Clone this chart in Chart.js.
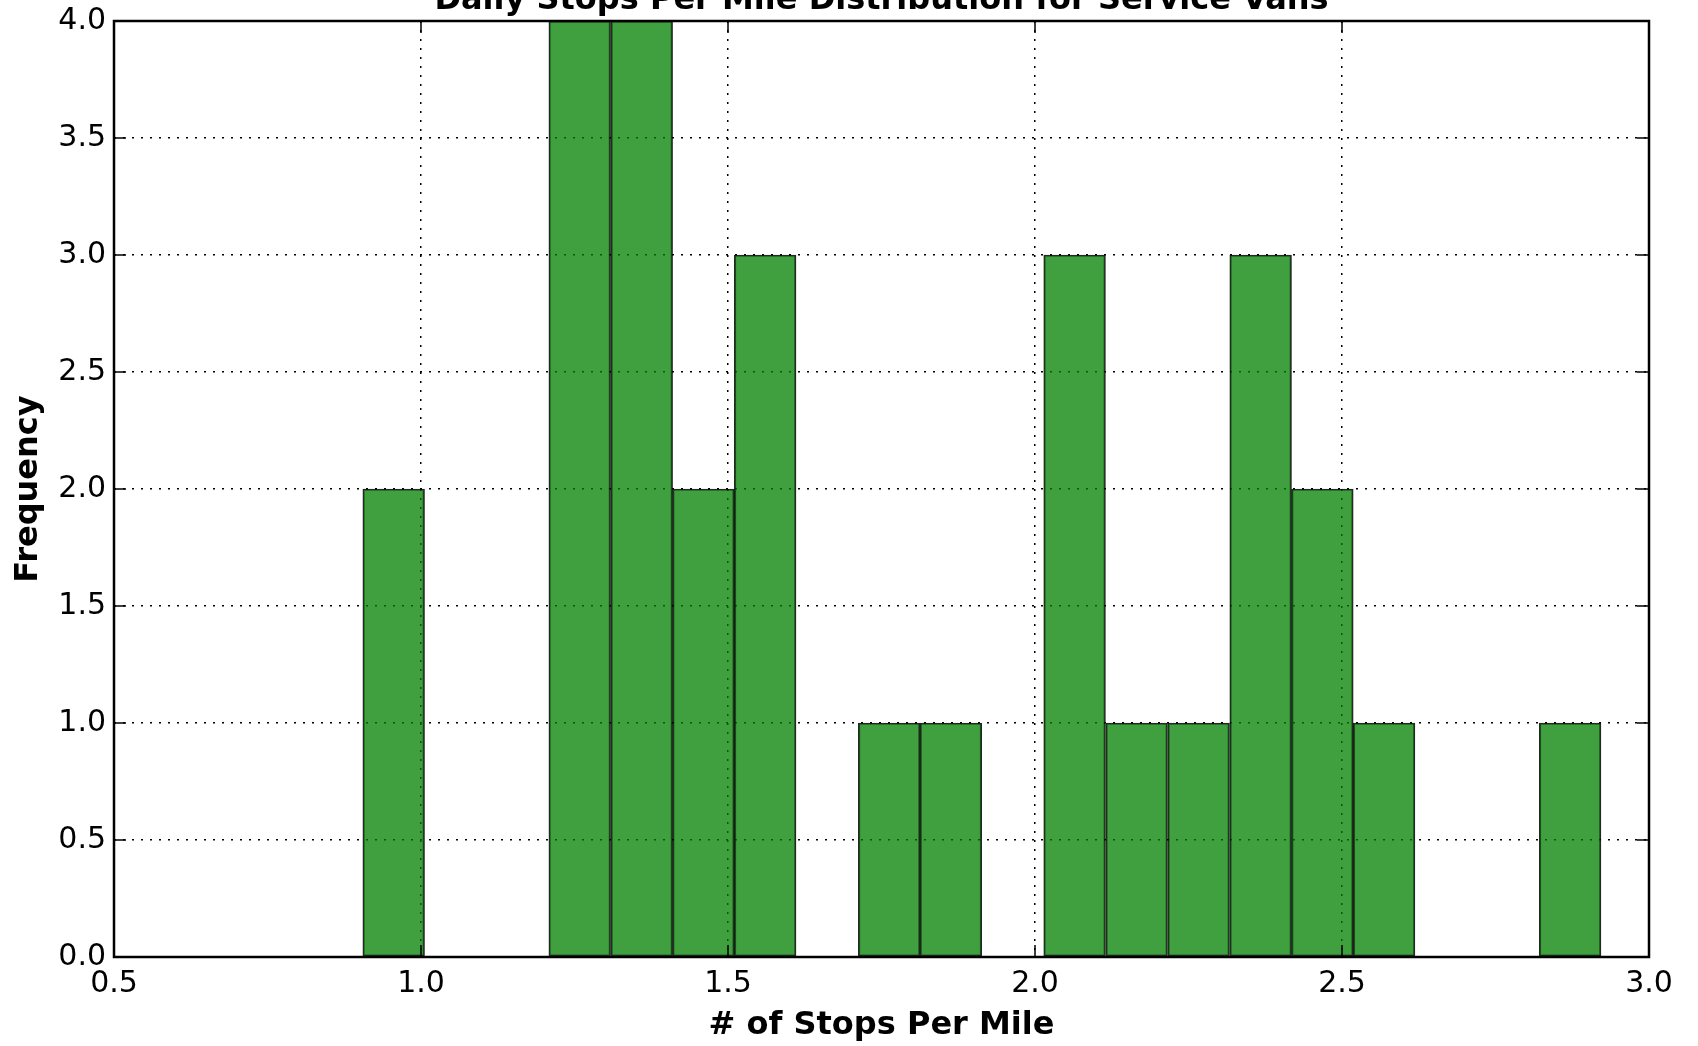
<!DOCTYPE html>
<html>
<head>
<meta charset="utf-8">
<title>Daily Stops Per Mile Distribution for Service Vans</title>
<script src="https://cdn.jsdelivr.net/npm/chart.js@4"></script>
<style>
    html, body { margin:0; padding:0; background:#fff; }
    #wrap { width:1698px; height:1046px; }
</style>
</head>
<body>
<div id="wrap"><canvas id="graficoHist" width="1698" height="1046"></canvas></div>
<script>
// bin edges and counts
const binEdges = [0.905, 1.006, 1.107, 1.208, 1.309, 1.410, 1.510, 1.611, 1.712, 1.813, 1.913,
                  2.014, 2.115, 2.216, 2.317, 2.418, 2.518, 2.619, 2.720, 2.821, 2.922];
const binCounts = [2, 0, 0, 4, 4, 2, 3, 0, 1, 1, 0, 3, 1, 1, 3, 2, 1, 0, 0, 1];
const xTicks = [0.5, 1.0, 1.5, 2.0, 2.5, 3.0];
const yTicks = [0.0, 0.5, 1.0, 1.5, 2.0, 2.5, 3.0, 3.5, 4.0];

const chartTitle = 'Daily Stops Per Mile Distribution for Service Vans';
const xTitle = '# of Stops Per Mile';
const yTitle = 'Frequency';

const FONT = 'DejaVu Sans';

function montarPontos(){
    return binCounts.map((c, i) => ({ x: (binEdges[i] + binEdges[i + 1]) / 2, y: c }));
}

// title sits partly above the canvas, like the original
const tituloPlugin = {
    id: 'tituloCortado',
    afterDraw(chart){
        const ctx = chart.ctx;
        const area = chart.chartArea;
        ctx.save();
        ctx.fillStyle = '#000';
        ctx.font = 'bold 32px "' + FONT + '"';
        ctx.textAlign = 'center';
        ctx.textBaseline = 'alphabetic';
        ctx.fillText(chartTitle, (area.left + area.right) / 2, 9);
        ctx.restore();
    }
};

// frame + inward ticks on all four sides
const moldura = {
    id: 'moldura',
    afterDraw(chart){
        const ctx = chart.ctx;
        const a = chart.chartArea;
        const sx = chart.scales.x;
        const sy = chart.scales.y;
        const len = 12;
        ctx.save();
        ctx.strokeStyle = '#000';
        ctx.lineWidth = 1.5;
        ctx.beginPath();
        xTicks.forEach(v => {
            const px = sx.getPixelForValue(v);
            ctx.moveTo(px, a.bottom); ctx.lineTo(px, a.bottom - len);
            ctx.moveTo(px, a.top); ctx.lineTo(px, a.top + len);
        });
        yTicks.forEach(v => {
            const py = sy.getPixelForValue(v);
            ctx.moveTo(a.left, py); ctx.lineTo(a.left + len, py);
            ctx.moveTo(a.right, py); ctx.lineTo(a.right - len, py);
        });
        ctx.stroke();
        ctx.lineWidth = 2.5;
        ctx.strokeRect(a.left, a.top, a.right - a.left, a.bottom - a.top);
        ctx.restore();
    }
};

const canvas = document.getElementById('graficoHist');

const grafico = new Chart(canvas, {
    type: 'bar',
    data: {
        datasets: [{
            data: montarPontos(),
            backgroundColor: 'rgba(0,128,0,0.75)',
            borderColor: 'rgba(0,0,0,0.85)',
            borderWidth: ctx => (ctx.raw && ctx.raw.y > 0 ? 1.5 : 0),
            borderSkipped: false,
            barPercentage: 1.0,
            categoryPercentage: 1.0
        }]
    },
    options: {
        responsive: false,
        animation: false,
        devicePixelRatio: 1,
        layout: { padding: { left: 0, right: 49, top: 21, bottom: 0 } },
        plugins: {
            legend: { display: false },
            tooltip: { enabled: false },
            title: { display: false }
        },
        scales: {
            x: {
                type: 'linear',
                min: 0.5,
                max: 3.0,
                offset: false,
                z: 1,
                afterBuildTicks: s => { s.ticks = xTicks.map(v => ({ value: v })); },
                afterFit: s => { s.height = 89; },
                ticks: {
                    autoSkip: false,
                    maxRotation: 0,
                    padding: 9,
                    color: '#000',
                    font: { family: FONT, size: 30 },
                    callback: v => Number(v).toFixed(1)
                },
                grid: {
                    offset: false,
                    color: '#000',
                    lineWidth: 1.5,
                    drawTicks: false
                },
                border: { display: false, dash: [2, 7] },
                title: {
                    display: true,
                    text: xTitle,
                    color: '#000',
                    font: { family: FONT, size: 32, weight: 'bold' },
                    padding: { top: 0, bottom: 1 }
                }
            },
            y: {
                min: 0,
                max: 4,
                z: 1,
                afterBuildTicks: s => { s.ticks = yTicks.map(v => ({ value: v })); },
                afterFit: s => {
                    s.width = 114;
                    s.paddingTop = 0;
                    s.paddingBottom = 0;
                },
                ticks: {
                    autoSkip: false,
                    padding: 8,
                    color: '#000',
                    font: { family: FONT, size: 30 },
                    callback: v => Number(v).toFixed(1)
                },
                grid: {
                    color: '#000',
                    lineWidth: 1.5,
                    drawTicks: false
                },
                border: { display: false, dash: [2, 7] },
                title: {
                    display: true,
                    text: yTitle,
                    color: '#000',
                    font: { family: FONT, size: 32, weight: 'bold' },
                    padding: { top: 9, bottom: 0 }
                }
            }
        }
    },
    plugins: [tituloPlugin, moldura]
});
</script>
</body>
</html>
